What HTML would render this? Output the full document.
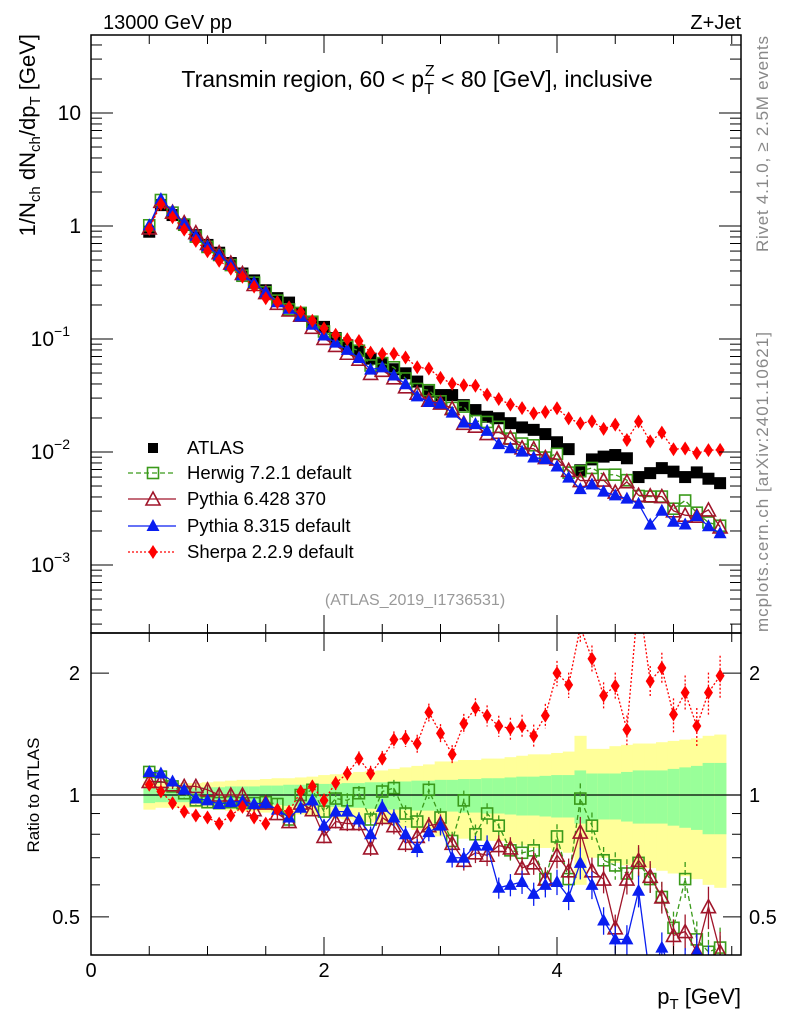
<!DOCTYPE html>
<html><head><meta charset="utf-8"><style>
body{margin:0;background:#fff}
svg{display:block;font-family:"Liberation Sans",sans-serif}
</style></head><body>
<svg id="chart" width="786" height="1024" viewBox="0 0 786 1024" xmlns="http://www.w3.org/2000/svg">
<defs>
<clipPath id="cm"><rect x="91" y="35" width="650" height="598"/></clipPath>
<clipPath id="cr"><rect x="91" y="633" width="650" height="322"/></clipPath>
</defs>
<rect x="0" y="0" width="786" height="1024" fill="#fff"/>
<g id="bands" clip-path="url(#cr)"></g>
<g id="main" clip-path="url(#cm)"></g>
<g id="ratio" clip-path="url(#cr)"></g>
<g id="axes"></g>
<text x="103" y="29" font-size="20">13000 GeV pp</text>
<text x="741" y="29" font-size="20" text-anchor="end">Z+Jet</text>
<text x="417" y="87" font-size="23" text-anchor="middle">Transmin region, 60 &lt; p<tspan font-size="16" dy="7">T</tspan><tspan font-size="16" dx="-9" dy="-18">Z</tspan><tspan dy="11"> &lt; 80 [GeV], inclusive</tspan></text>
<text transform="translate(35,34) rotate(-90)" font-size="22" text-anchor="end">1/N<tspan font-size="15" dy="5">ch</tspan><tspan dy="-5"> dN</tspan><tspan font-size="15" dy="5">ch</tspan><tspan dy="-5">/dp</tspan><tspan font-size="15" dy="5">T</tspan><tspan dy="-5"> [GeV]</tspan></text>
<text transform="translate(768,252) rotate(-90)" font-size="17" fill="#888" textLength="216">Rivet 4.1.0, ≥ 2.5M events</text>
<text transform="translate(768,632) rotate(-90)" font-size="17" fill="#888" textLength="300">mcplots.cern.ch [arXiv:2401.10621]</text>
<text x="415" y="605" font-size="16" fill="#999" text-anchor="middle">(ATLAS_2019_I1736531)</text>
<text transform="translate(39,795) rotate(-90)" font-size="17" text-anchor="middle">Ratio to ATLAS</text>
<text x="741" y="1004" font-size="22" text-anchor="end">p<tspan font-size="15" dy="5">T</tspan><tspan dy="-5"> [GeV]</tspan></text>
<g id="legend"></g>
</svg>
<script>
const pts = [0.5,0.6,0.7,0.8,0.9,1.0,1.1,1.2,1.3,1.4,1.5,1.6,1.7,1.8,1.9,2.0,2.1,2.2,2.3,2.4,2.5,2.6,2.7,2.8,2.9,3.0,3.1,3.2,3.3,3.4,3.5,3.6,3.7,3.8,3.9,4.0,4.1,4.2,4.3,4.4,4.5,4.6,4.7,4.8,4.9,5.0,5.1,5.2,5.3,5.4];
const atlas = [0.89,1.53,1.25,1.02,0.83,0.68,0.58,0.47,0.38,0.33,0.27,0.23,0.21,0.17,0.138,0.128,0.102,0.088,0.078,0.067,0.06,0.054,0.0497,0.042,0.0342,0.0319,0.0319,0.026,0.0235,0.0205,0.0199,0.018,0.0165,0.0157,0.0144,0.0122,0.0106,0.0069,0.0086,0.0091,0.0094,0.0088,0.006,0.0065,0.0072,0.0067,0.006,0.0066,0.0058,0.0053];
const herwigRatio = [1.14,1.11,1.05,1.01,0.97,0.96,0.955,0.96,0.955,0.955,0.96,0.95,0.87,1.0,1.03,0.91,0.98,0.97,1.01,0.87,1.02,1.04,0.9,0.86,1.03,0.88,0.77,0.97,0.8,0.9,0.84,0.73,0.72,0.73,0.62,0.79,0.62,0.98,0.84,0.69,0.67,0.64,0.68,0.62,0.56,0.47,0.62,0.44,0.41,0.42];
const py6Ratio = [1.08,1.08,1.06,1.05,1.05,1.03,1.0,1.0,1.0,0.92,0.955,0.9,0.86,0.955,0.92,0.79,0.86,0.85,0.85,0.74,0.88,0.84,0.76,0.79,0.84,0.85,0.76,0.69,0.72,0.71,0.75,0.74,0.66,0.68,0.62,0.71,0.65,0.81,0.65,0.62,0.47,0.62,0.69,0.63,0.56,0.45,0.46,0.41,0.53,0.41];
const py8Ratio = [1.14,1.13,1.08,1.03,0.98,0.97,0.95,0.96,0.965,0.95,0.955,0.92,0.88,0.93,0.97,0.84,0.91,0.91,0.87,0.8,0.935,0.88,0.8,0.74,0.81,0.84,0.7,0.7,0.75,0.75,0.59,0.6,0.61,0.57,0.6,0.61,0.56,0.68,0.6,0.49,0.44,0.44,0.58,0.35,0.42,0.36,0.38,0.41,0.38,0.36];
const sherpaRatio = [1.06,1.02,0.955,0.91,0.89,0.88,0.85,0.89,0.935,0.88,0.85,0.92,0.91,1.02,1.05,0.97,1.07,1.13,1.23,1.13,1.23,1.37,1.38,1.34,1.6,1.42,1.26,1.5,1.64,1.57,1.48,1.46,1.48,1.4,1.57,2.0,1.87,2.6,2.17,1.76,1.86,1.45,3.1,1.91,2.06,1.58,1.79,1.48,1.79,1.97];
const statErr = [0.045,0.04,0.04,0.04,0.04,0.045,0.045,0.05,0.05,0.05,0.055,0.055,0.06,0.06,0.06,0.065,0.065,0.07,0.07,0.075,0.075,0.08,0.08,0.085,0.085,0.09,0.09,0.095,0.095,0.1,0.1,0.105,0.11,0.11,0.115,0.12,0.12,0.15,0.13,0.13,0.13,0.14,0.15,0.15,0.15,0.16,0.17,0.18,0.2,0.2];
const totErr = [0.08,0.07,0.07,0.07,0.07,0.075,0.08,0.085,0.09,0.09,0.095,0.1,0.1,0.105,0.11,0.12,0.125,0.13,0.14,0.145,0.15,0.16,0.17,0.18,0.19,0.21,0.21,0.22,0.22,0.23,0.23,0.24,0.25,0.26,0.26,0.27,0.28,0.4,0.3,0.3,0.32,0.33,0.34,0.34,0.35,0.36,0.37,0.38,0.4,0.41];
const xTicks = [0,2,4];
const ratioTicks = [0.5,1,2];

const NS = "http://www.w3.org/2000/svg";
const X0=91, X1=741, XPU=116.5;
const xs = v => X0 + v*XPU;
const ym = v => 226 - 113*Math.log10(v);
const yr = v => 795 - 405*Math.log10(v);
function mk(tag, attrs, parent){const e=document.createElementNS(NS,tag);for(const k in attrs)e.setAttribute(k,attrs[k]);parent.appendChild(e);return e;}
const gMain=document.getElementById('main'), gRatio=document.getElementById('ratio'), gBands=document.getElementById('bands'), gAxes=document.getElementById('axes'), gLeg=document.getElementById('legend');

pts.forEach((p,i)=>{
  const x0=xs(p-0.05), w=XPU*0.1;
  const yb=mk('rect',{x:x0,y:yr(1+totErr[i]),width:w+0.5,height:yr(1-totErr[i])-yr(1+totErr[i]),fill:'#ffff99'},gBands);
  
  
  const gb=mk('rect',{x:x0,y:yr(1+statErr[i]),width:w+0.5,height:yr(1-statErr[i])-yr(1+statErr[i]),fill:'#99ff99'},gBands);
  
  
});
const ul=mk('line',{x1:X0,x2:X1,y1:yr(1),y2:yr(1),stroke:'#000','stroke-width':1.2},gBands);



function marker(g,type,x,y,color){
  let e;
  if(type==='sq') e=mk('rect',{x:x-6,y:y-6,width:12,height:12,fill:color},g);
  else if(type==='osq') e=mk('rect',{x:x-5.5,y:y-5.5,width:11,height:11,fill:'none',stroke:color,'stroke-width':1.6},g);
  else if(type==='otri') e=mk('polygon',{points:`${x},${y-7} ${x+7},${y+6} ${x-7},${y+6}`,fill:'none',stroke:color,'stroke-width':1.6},g);
  else if(type==='tri') e=mk('polygon',{points:`${x},${y-7} ${x+6.5},${y+5} ${x-6.5},${y+5}`,fill:color},g);
  else e=mk('polygon',{points:`${x},${y-7} ${x+4.5},${y} ${x},${y+7} ${x-4.5},${y}`,fill:color},g);
  return e;
}
const series=[
 {name:'herwig',ratio:herwigRatio,color:'#3a9a1a',type:'osq',dash:'5,3'},
 {name:'pythia6',ratio:py6Ratio,color:'#a0152a',type:'otri',dash:''},
 {name:'pythia8',ratio:py8Ratio,color:'#0a1ef0',type:'tri',dash:''},
 {name:'sherpa',ratio:sherpaRatio,color:'#ff0000',type:'dia',dash:'2,2'}
];
pts.forEach((p,i)=>{
  const m=marker(gMain,'sq',xs(p),ym(atlas[i]),'#000');
  
  
});
series.forEach(s=>{
  const dm=pts.map((p,i)=>`${xs(p)},${ym(atlas[i]*s.ratio[i])}`).join(' ');
  const lm=mk('polyline',{points:dm,fill:'none',stroke:s.color,'stroke-width':1.3,'stroke-dasharray':s.dash},gMain);
  
  
  const dr=pts.map((p,i)=>`${xs(p)},${yr(s.ratio[i])}`).join(' ');
  const lr=mk('polyline',{points:dr,fill:'none',stroke:s.color,'stroke-width':1.3,'stroke-dasharray':s.dash},gRatio);
  
  
  pts.forEach((p,i)=>{
    const r=s.ratio[i], e=statErr[i]*0.6*r;
    const eb=mk('line',{x1:xs(p),x2:xs(p),y1:yr(r+e),y2:yr(Math.max(r-e,0.05)),stroke:s.color,'stroke-width':1.3,'stroke-dasharray':s.dash},gRatio);
    
    
    const m1=marker(gMain,s.type,xs(p),ym(atlas[i]*r),s.color);
    
    
    const m2=marker(gRatio,s.type,xs(p),yr(r),s.color);
    
    
  });
});

[[35,633],[633,955]].forEach(([t,b])=>{
  const f=mk('rect',{x:X0,y:t,width:X1-X0,height:b-t,fill:'none',stroke:'#000','stroke-width':1.5},gAxes);
  
  
});
for(let v=0; v<=5.5; v+=0.5){
  const x=xs(v), L=(Math.abs(v%2)<1e-6)?18:9;
  [[35,1],[633,-1],[633,1],[955,-1]].forEach(([y,d])=>{mk('line',{x1:x,x2:x,y1:y,y2:y+d*L,stroke:'#000','stroke-width':1},gAxes);});
}
xTicks.forEach(v=>{
  const t=mk('text',{x:xs(v),y:977,'font-size':20,'text-anchor':'middle'},gAxes);
  t.textContent=v;
  
  
});
for(let d=-4; d<=1; d++){
  for(let k=1;k<=9;k++){
    const v=k*Math.pow(10,d), y=ym(v);
    if(y<35||y>633) continue;
    const L=k===1?22:11;
    mk('line',{x1:X0,x2:X0+L,y1:y,y2:y,stroke:'#000','stroke-width':1},gAxes);
    mk('line',{x1:X1,x2:X1-L,y1:y,y2:y,stroke:'#000','stroke-width':1},gAxes);
  }
}
const mainLabels=[[10,'10',''],[1,'1',''],[0.1,'10','−1'],[0.01,'10','−2'],[0.001,'10','−3']];
mainLabels.forEach(([v,b,e])=>{
  const t=mk('text',{x:e?70:81,y:ym(v)+7,'font-size':21,'text-anchor':'end'},gAxes);
  t.textContent=b;
  if(e){const s=mk('tspan',{'font-size':14,dy:-10},t);s.textContent=e;}
  
  
});
[0.4,0.5,0.6,0.7,0.8,0.9,1,2].forEach(v=>{
  const y=yr(v); if(y<633||y>955) return;
  const L=(v===0.5||v===1||v===2)?18:9;
  mk('line',{x1:X0,x2:X0+L,y1:y,y2:y,stroke:'#000','stroke-width':1},gAxes);
  mk('line',{x1:X1,x2:X1-L,y1:y,y2:y,stroke:'#000','stroke-width':1},gAxes);
});
ratioTicks.forEach(v=>{
  const t=mk('text',{x:80,y:yr(v)+7,'font-size':20,'text-anchor':'end'},gAxes);
  t.textContent=v;
  
  
  const t2=mk('text',{x:749,y:yr(v)+7,'font-size':20},gAxes);
  t2.textContent=v;
  
  
});
const legItems=[
 {label:'ATLAS',type:'sq',color:'#000',dash:null},
 {label:'Herwig 7.2.1 default',type:'osq',color:'#3a9a1a',dash:'5,3'},
 {label:'Pythia 6.428 370',type:'otri',color:'#a0152a',dash:''},
 {label:'Pythia 8.315 default',type:'tri',color:'#0a1ef0',dash:''},
 {label:'Sherpa 2.2.9 default',type:'dia',color:'#ff0000',dash:'2,2'}
];
const legY=[448,473,499,526,552];
legItems.forEach((it,i)=>{
  const g=mk('g',{},gLeg);
  
  
  const y=legY[i];
  if(it.dash!==null) mk('line',{x1:128,x2:176,y1:y,y2:y,stroke:it.color,'stroke-width':1.3,'stroke-dasharray':it.dash},g);
  if(it.type==='sq') mk('rect',{x:148,y:y-5,width:10,height:10,fill:'#000'},g);
  else marker(g,it.type,153,y,it.color);
  const t=mk('text',{x:187,y:y+6,'font-size':18.5},g);
  t.textContent=it.label;
});
</script>
</body></html>
